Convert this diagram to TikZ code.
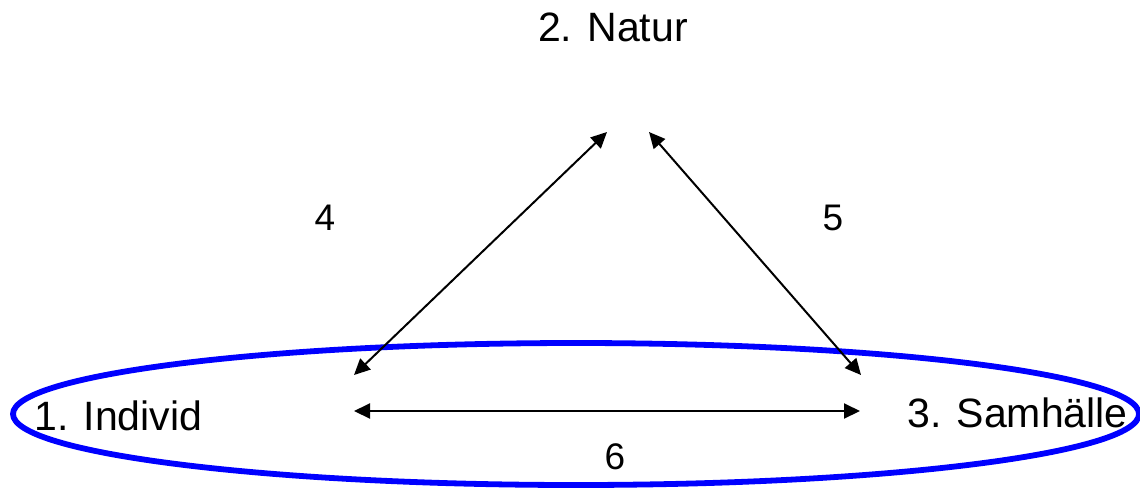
\documentclass[tikz,border=0pt]{standalone}
\usepackage{fontspec}
\setmainfont{Liberation Sans}
\usetikzlibrary{arrows.meta}
\definecolor{ringblue}{HTML}{0000FF}
\tikzset{
  wordtxt/.style={inner sep=0pt, font=\fontsize{20.5}{24}\selectfont},
  numtxt/.style={inner sep=0pt, font=\fontsize{18.5}{22}\selectfont},
  dblarr/.style={{Triangle[length=8pt,width=7.5pt]}-{Triangle[length=8pt,width=7.5pt]},
                 line width=1pt},
  ring/.style={draw=ringblue, line width=2.9pt},
}
\begin{document}
\begin{tikzpicture}[x=0.5pt,y=-0.5pt]
  \useasboundingbox (0,0) rectangle (1140,488);
  % the circle round individ and samhaelle
  \draw[ring] (576,414) ellipse [x radius=563, y radius=71];
  \node[wordtxt, anchor=base] (natur) at (613,41) {2. Natur};
  \node[wordtxt, anchor=base west] (individ) at (34,430) {1. Individ};
  \node[wordtxt, anchor=base west] (samh) at (907,427) {3. Samhälle};
  \node[numtxt, anchor=base] (n4) at (325,230) {4};
  \node[numtxt, anchor=base] (n5) at (833,230) {5};
  \node[numtxt, anchor=base] (n6) at (615,469) {6};
  % arrow ends
  \coordinate (natL) at (607,132);
  \coordinate (natR) at (649,132);
  \coordinate (indT) at (354,375);
  \coordinate (indR) at (354,411);
  \coordinate (samT) at (861,375);
  \coordinate (samL) at (860,411);
  \draw[dblarr] (indT) -- (natL);
  \draw[dblarr] (natR) -- (samT);
  \draw[dblarr] (indR) -- (samL);
\end{tikzpicture}
\end{document}
